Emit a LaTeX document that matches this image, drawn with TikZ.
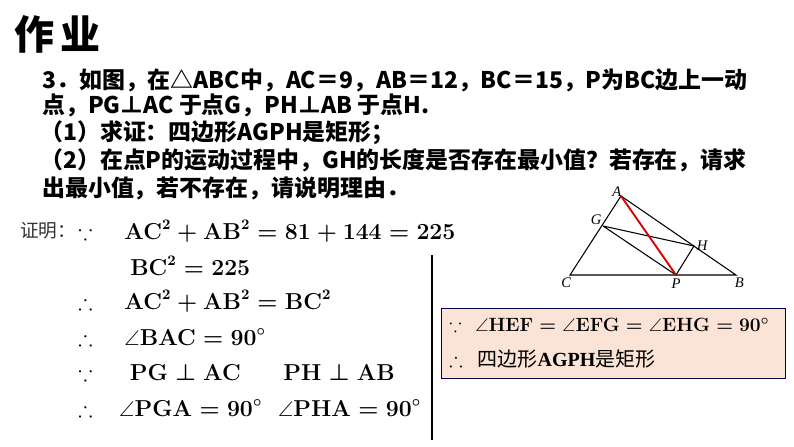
\documentclass[tikz,border=0pt]{standalone}
\usepackage{amssymb}
\usepackage{fontspec}
\setmainfont{Liberation Serif}
\newfontfamily\cjk{Noto Sans CJK SC}
\usetikzlibrary{positioning}
\tikzset{ques/.style={anchor=west, inner sep=0pt, font=\cjk\bfseries\fontsize{17.2}{18}\selectfont},
  prf/.style={anchor=west, inner sep=0pt, font=\boldmath\bfseries\fontsize{16}{18}\selectfont},
  pt/.style={inner sep=1pt, font=\itshape\fontsize{11}{12}\selectfont},
  seg/.style={line width=0.8pt}}
\newcommand{\tb}[1]{\mathbf{#1}}
\begin{document}
\begin{tikzpicture}[x=0.75pt,y=-0.75pt]
\useasboundingbox (0,0) rectangle (794,447);
% heading and question
\node[anchor=west, inner sep=0pt, font=\cjk\bfseries\fontsize{30}{32}\selectfont] (title) at (14,34) {作\,业};
\node[ques] (q1) at (42,80) {3．如图，在△ABC中，AC＝9，AB＝12，BC＝15，P为BC边上一动};
\node[ques] (q2) at (42,105) {点，PG⊥AC 于点G，PH⊥AB 于点H.};
\node[ques] (q3) at (40,133) {（1）求证：四边形AGPH是矩形；};
\node[ques] (q4) at (40,160) {（2）在点P的运动过程中，GH的长度是否存在最小值？若存在，请求};
\node[ques] (q5) at (42,188) {出最小值，若不存在，请说明理由．};
% proof
\node[anchor=west, inner sep=0pt, font=\cjk\fontsize{14}{15}\selectfont, text=black!80] (zm) at (20,231) {证明：};
\node[prf] (s1) at (78,231) {$\because$\quad\ \ $\tb{AC}^2+\tb{AB}^2=\tb{81}+\tb{144}=\tb{225}$};
\node[prf] (s2) at (130,266) {$\tb{BC}^2=\tb{225}$};
\node[prf] (s3) at (78,301) {$\therefore$\quad\ \ $\tb{AC}^2+\tb{AB}^2=\tb{BC}^2$};
\node[prf] (s4) at (78,337) {$\therefore$\quad\ \ $\angle\tb{BAC}=\tb{90}^\circ$};
\node[prf] (s5) at (78,372) {$\because$\quad\ \ \ $\tb{PG}\perp\tb{AC}$\qquad$\tb{PH}\perp\tb{AB}$};
\node[prf] (s6) at (78,408) {$\therefore$\quad\ $\angle\tb{PGA}=\tb{90}^\circ$\ \ \ $\angle\tb{PHA}=\tb{90}^\circ$};
\draw[line width=1.2pt] (432,255) -- (432,440);
% box
\draw[fill={rgb,255:red,251;green,228;blue,214}, draw=black!70!blue] (441,308) rectangle (785,378);
\node[prf, font=\boldmath\bfseries\fontsize{13.8}{16}\selectfont] (b1) at (449,325) {$\because$\ \ \ $\angle\tb{HEF}=\angle\tb{EFG}=\angle\tb{EHG}=\tb{90}^\circ$};
\node[anchor=west, inner sep=0pt, font=\fontsize{15}{17}\selectfont] (b2) at (449,359) {$\therefore$\ \ \ {\cjk 四边形}\textbf{AGPH}{\cjk 是矩形}};
% figure
\coordinate (A) at (621,196);
\coordinate (B) at (736,275);
\coordinate (C) at (570,275);
\coordinate (P) at (676,275);
\coordinate (G) at (603,226);
\coordinate (H) at (694,246);
\draw[seg] (A) -- (B) -- (C) -- cycle;
\draw[seg] (G) -- (H) -- (P) -- (G);
\draw[line width=1.4pt, red!85!black] (A) -- (P);
\node[pt, above left=-2pt of A] {A};
\node[pt, above left=0pt of G] {G};
\node[pt, right=1pt of H] {H};
\node[pt, below left=1pt and -2pt of C] {C};
\node[pt, below=2pt of P] {P};
\node[pt, below right=1pt and -2pt of B] {B};
\end{tikzpicture}
\end{document}
